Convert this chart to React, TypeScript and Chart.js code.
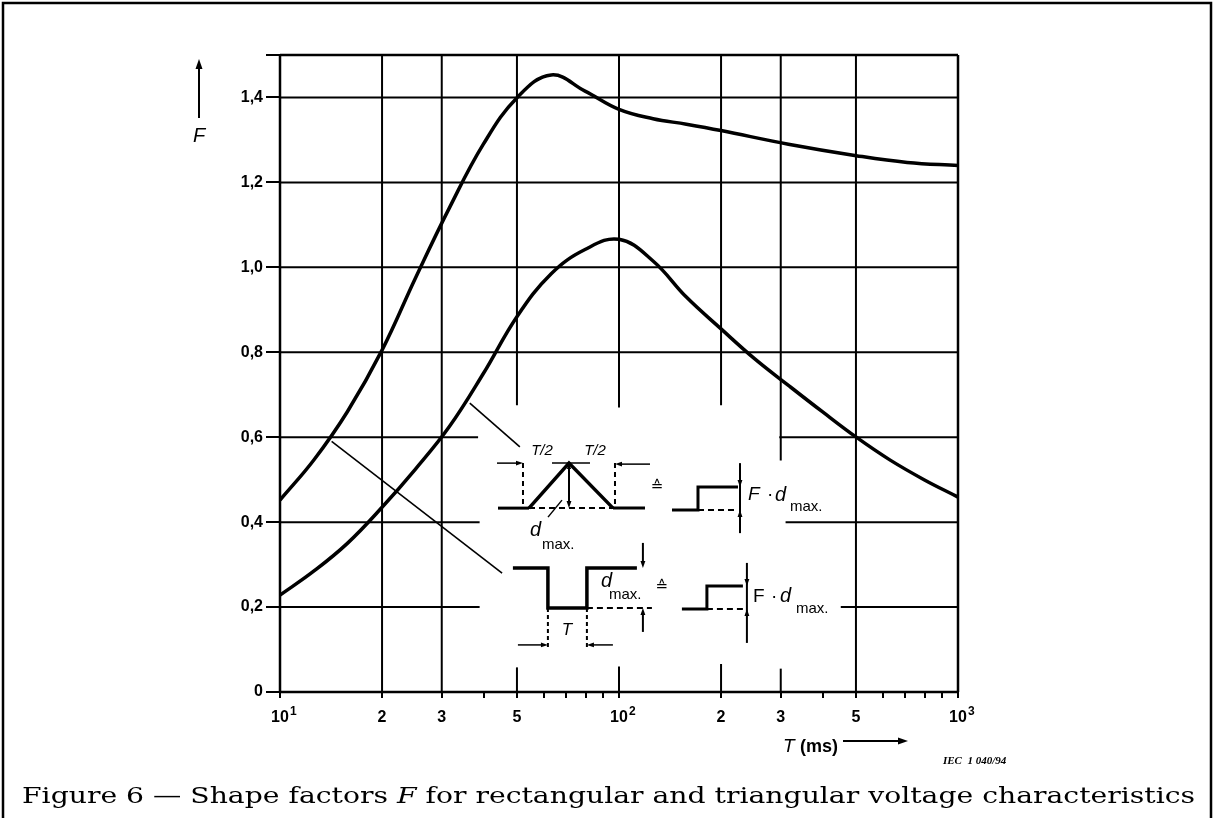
import React, { useEffect, useRef } from 'react';
import { Chart, registerables } from 'chart.js';

Chart.register(...registerables);

// ---- data ----
const T_RECT = [10, 12.6, 15.8, 20, 25.1, 31.6, 39.8, 50.1, 63.1, 79.4, 100, 126, 158, 200, 316, 501, 708, 1000];
const F_RECT = [0.452, 0.547, 0.66, 0.805, 0.975, 1.14, 1.29, 1.4, 1.453, 1.415, 1.372, 1.35, 1.337, 1.322, 1.29, 1.263, 1.247, 1.24];
const T_TRI = [10, 12.6, 15.8, 20, 25.1, 31.6, 39.8, 50.1, 63.1, 79.4, 100, 126, 158, 200, 251, 316, 398, 501, 631, 794, 1000];
const F_TRI = [0.228, 0.285, 0.35, 0.435, 0.525, 0.625, 0.75, 0.885, 0.985, 1.042, 1.066, 1.015, 0.93, 0.855, 0.785, 0.722, 0.66, 0.6, 0.546, 0.5, 0.459];

const X_TICKS = [10, 20, 30, 40, 50, 60, 70, 80, 90, 100, 200, 300, 400, 500, 600, 700, 800, 900, 1000];
const X_LABELS: Record<number, string> = { 10: '10', 20: '2', 30: '3', 50: '5', 100: '10', 200: '2', 300: '3', 500: '5', 1000: '10' };
const X_EXPONENTS: Record<number, string> = { 10: '1', 100: '2', 1000: '3' };
const Y_TICKS = [0, 0.2, 0.4, 0.6, 0.8, 1.0, 1.2, 1.4, 1.5];
const Y_LABELS = ['0', '0,2', '0,4', '0,6', '0,8', '1,0', '1,2', '1,4', ''];

// grid segments in data units (grid is interrupted around the insets)
const V_SEGMENTS: [number, number, number][] = [
  [10, 0, 1.5], [20, 0, 1.5], [30, 0, 1.5],
  [50, 0.675, 1.5], [50, 0, 0.058],
  [100, 0.67, 1.5], [100, 0, 0.06],
  [200, 0.675, 1.5], [200, 0, 0.066],
  [300, 0.545, 1.5], [300, 0, 0.055],
  [500, 0, 1.5], [1000, 0, 1.5],
];
const H_SEGMENTS: [number, number, number][] = [
  [0, 10, 1000],
  [0.2, 10, 38.8], [0.2, 451, 1000],
  [0.4, 10, 38.8], [0.4, 310, 1000],
  [0.6, 10, 38.4], [0.6, 297, 1000],
  [0.8, 10, 1000], [1.0, 10, 1000], [1.2, 10, 1000], [1.4, 10, 1000], [1.5, 10, 1000],
];
// leader lines from curves to the insets (data units)
const LEADERS: [number, number, number, number][] = [
  [14.2, 0.59, 45.2, 0.28],
  [36.3, 0.68, 51.0, 0.577],
];
const TRI_ANCHOR: [number, number] = [71.2, 0.433];
const RECT_ANCHOR: [number, number] = [61.7, 0.198];

const SANS = "'Liberation Sans', Arial, sans-serif";

function line(ctx: CanvasRenderingContext2D, x1: number, y1: number, x2: number, y2: number, w = 2, dash: number[] = []) {
  ctx.save();
  ctx.lineWidth = w;
  ctx.setLineDash(dash);
  ctx.beginPath();
  ctx.moveTo(x1, y1);
  ctx.lineTo(x2, y2);
  ctx.stroke();
  ctx.restore();
}
function poly(ctx: CanvasRenderingContext2D, ox: number, oy: number, pts: number[][], w = 3, dash: number[] = []) {
  ctx.save();
  ctx.lineWidth = w;
  ctx.lineJoin = 'miter';
  ctx.setLineDash(dash);
  ctx.beginPath();
  pts.forEach(([px, py], i) => (i ? ctx.lineTo(ox + px, oy + py) : ctx.moveTo(ox + px, oy + py)));
  ctx.stroke();
  ctx.restore();
}
function head(ctx: CanvasRenderingContext2D, x: number, y: number, dx: number, dy: number, size = 7) {
  const len = Math.hypot(dx, dy);
  const ux = dx / len, uy = dy / len;
  const w = size * 0.35;
  ctx.beginPath();
  ctx.moveTo(x, y);
  ctx.lineTo(x - ux * size - uy * w, y - uy * size + ux * w);
  ctx.lineTo(x - ux * size + uy * w, y - uy * size - ux * w);
  ctx.closePath();
  ctx.fill();
}
function text(ctx: CanvasRenderingContext2D, s: string, x: number, y: number, font: string, align: CanvasTextAlign = 'left') {
  ctx.font = font;
  ctx.textAlign = align;
  ctx.textBaseline = 'middle';
  ctx.fillText(s, x, y);
}

const figurePlugin = {
  id: 'figure',
  beforeDatasetsDraw(chart: any) {
    const { ctx } = chart;
    const xs = chart.scales.x, ys = chart.scales.y;
    ctx.save();
    ctx.strokeStyle = '#000';
    for (const [vx, y0, y1] of V_SEGMENTS) {
      const px = xs.getPixelForValue(vx);
      line(ctx, px, ys.getPixelForValue(y0), px, ys.getPixelForValue(y1), vx === 10 || vx === 1000 ? 2.5 : 2);
    }
    for (const [vy, x0, x1] of H_SEGMENTS) {
      const py = ys.getPixelForValue(vy);
      line(ctx, xs.getPixelForValue(x0), py, xs.getPixelForValue(x1), py, vy === 0 || vy === 1.5 ? 2.5 : 2);
    }
    for (const [a, b, c, d] of LEADERS) {
      line(ctx, xs.getPixelForValue(a), ys.getPixelForValue(b), xs.getPixelForValue(c), ys.getPixelForValue(d), 1.6);
    }
    ctx.restore();
  },
  afterDraw(chart: any) {
    const { ctx, chartArea } = chart;
    const xs = chart.scales.x, ys = chart.scales.y;
    const W = chart.width;
    ctx.save();
    ctx.strokeStyle = '#000';
    ctx.fillStyle = '#000';

    // frame
    poly(ctx, 0, 0, [[3, 830], [3, 3], [W - 3, 3], [W - 3, 830]], 2.5);

    // decade exponents on the x labels
    for (const k of Object.keys(X_EXPONENTS)) {
      const v = Number(k);
      text(ctx, X_EXPONENTS[v], xs.getPixelForValue(v) + 10, chartArea.bottom + 20, `bold 12px ${SANS}`);
    }

    // F axis arrow
    const fx = chartArea.left - 81;
    line(ctx, fx, chartArea.top + 63, fx, chartArea.top + 12, 2);
    head(ctx, fx, chartArea.top + 4, 0, -1, 10);
    text(ctx, 'F', fx, chartArea.top + 81, `italic 20px ${SANS}`, 'center');

    // T (ms) axis title with arrow
    const tx = chartArea.right - 175, ty = chartArea.bottom + 55;
    text(ctx, 'T', tx, ty, `italic 19px ${SANS}`);
    ctx.font = `italic 19px ${SANS}`;
    const tw = ctx.measureText('T ').width;
    text(ctx, '(ms)', tx + tw, ty, `bold 18px ${SANS}`);
    line(ctx, chartArea.right - 115, ty - 6, chartArea.right - 58, ty - 6, 2);
    head(ctx, chartArea.right - 50, ty - 6, 1, 0, 10);

    // IEC code
    text(ctx, 'IEC  1 040/94', chartArea.right - 15, chartArea.bottom + 69, "italic bold 11px 'Liberation Serif', serif");

    // caption
    const parts: [string, boolean][] = [
      ['Figure 6 — Shape factors ', false],
      ['F', true],
      [' for rectangular and triangular voltage characteristics', false],
    ];
    const cf = (it: boolean) => `${it ? 'italic ' : ''}22px 'DejaVu Serif', serif`;
    let total = 0;
    for (const [s, it] of parts) { ctx.font = cf(it); total += ctx.measureText(s).width; }
    ctx.save();
    ctx.translate(22, 797);
    ctx.scale(1173 / total, 1);
    let cx = 0;
    for (const [s, it] of parts) {
      text(ctx, s, cx, 0, cf(it));
      cx += ctx.measureText(s).width;
    }
    ctx.restore();

    // ---- triangular pulse inset ----
    {
      const ox = xs.getPixelForValue(TRI_ANCHOR[0]);
      const oy = ys.getPixelForValue(TRI_ANCHOR[1]);
      poly(ctx, ox, oy, [[-71, 0], [-40, 0]], 3);
      poly(ctx, ox, oy, [[-40, 0], [0, -45], [44, 0]], 3.5);
      poly(ctx, ox, oy, [[44, 0], [76, 0]], 3);
      poly(ctx, ox, oy, [[-40, 0], [44, 0]], 2, [6, 4]);
      poly(ctx, ox, oy, [[-17, -45], [21, -45]], 1.5);
      poly(ctx, ox, oy, [[0, -40], [0, -6]], 2);
      head(ctx, ox, oy, 0, 1, 7);
      head(ctx, ox, oy - 45, 0, -1, 6);
      poly(ctx, ox, oy, [[-46, -45], [-46, 0]], 2, [5, 4]);
      poly(ctx, ox, oy, [[-72, -45], [-52, -45]], 1.5);
      head(ctx, ox - 46, oy - 45, 1, 0, 7);
      poly(ctx, ox, oy, [[46, -45], [46, 0]], 2, [5, 4]);
      poly(ctx, ox, oy, [[81, -44], [52, -44]], 1.5);
      head(ctx, ox + 46, oy - 44, -1, 0, 7);
      text(ctx, 'T/2', ox - 27, oy - 57, `italic 15px ${SANS}`, 'center');
      text(ctx, 'T/2', ox + 26, oy - 57, `italic 15px ${SANS}`, 'center');
      poly(ctx, ox, oy, [[-21, 9], [-7, -8]], 1.5);
      text(ctx, 'd', ox - 39, oy + 22, `italic 20px ${SANS}`);
      text(ctx, 'max.', ox - 27, oy + 37, `15px ${SANS}`);
      text(ctx, '≙', ox + 88, oy - 21, `15px 'DejaVu Sans', sans-serif`, 'center');
      poly(ctx, ox, oy, [[103, 2], [129, 2], [129, -21], [169, -21]], 3);
      poly(ctx, ox, oy, [[129, 2], [169, 2]], 2, [6, 4]);
      poly(ctx, ox, oy, [[171, -45], [171, 25]], 2);
      head(ctx, ox + 171, oy - 21, 0, 1, 7);
      head(ctx, ox + 171, oy + 2, 0, -1, 7);
      text(ctx, 'F', ox + 179, oy - 13, `italic 19px ${SANS}`);
      text(ctx, '·', ox + 198, oy - 13, `19px ${SANS}`);
      text(ctx, 'd', ox + 206, oy - 13, `italic 20px ${SANS}`);
      text(ctx, 'max.', ox + 221, oy - 1, `15px ${SANS}`);
    }

    // ---- rectangular pulse inset ----
    {
      const ox = xs.getPixelForValue(RECT_ANCHOR[0]);
      const oy = ys.getPixelForValue(RECT_ANCHOR[1]);
      poly(ctx, ox, oy, [[-35, -40], [0, -40], [0, 0], [39, 0], [39, -40], [89, -40]], 3.5);
      poly(ctx, ox, oy, [[39, 0], [104, 0]], 2, [6, 4]);
      poly(ctx, ox, oy, [[95, -65], [95, -46]], 2);
      head(ctx, ox + 95, oy - 40, 0, 1, 7);
      poly(ctx, ox, oy, [[95, 24], [95, 6]], 2);
      head(ctx, ox + 95, oy, 0, -1, 7);
      text(ctx, 'd', ox + 53, oy - 26, `italic 20px ${SANS}`);
      text(ctx, 'max.', ox + 61, oy - 13, `15px ${SANS}`);
      text(ctx, '≙', ox + 114, oy - 21, `15px 'DejaVu Sans', sans-serif`, 'center');
      poly(ctx, ox, oy, [[0, 0], [0, 42]], 2, [4, 3]);
      poly(ctx, ox, oy, [[39, 0], [39, 42]], 2, [4, 3]);
      text(ctx, 'T', ox + 19, oy + 22, `italic 17px ${SANS}`, 'center');
      poly(ctx, ox, oy, [[-30, 37], [-6, 37]], 1.5);
      head(ctx, ox, oy + 37, 1, 0, 7);
      poly(ctx, ox, oy, [[45, 37], [65, 37]], 1.5);
      head(ctx, ox + 39, oy + 37, -1, 0, 7);
      poly(ctx, ox, oy, [[134, 1], [159, 1], [159, -22], [195, -22]], 3);
      poly(ctx, ox, oy, [[159, 1], [195, 1]], 2, [6, 4]);
      poly(ctx, ox, oy, [[199, -45], [199, 35]], 2);
      head(ctx, ox + 199, oy - 22, 0, 1, 7);
      head(ctx, ox + 199, oy + 1, 0, -1, 7);
      text(ctx, 'F', ox + 205, oy - 11, `19px ${SANS}`);
      text(ctx, '·', ox + 223, oy - 11, `19px ${SANS}`);
      text(ctx, 'd', ox + 232, oy - 11, `italic 20px ${SANS}`);
      text(ctx, 'max.', ox + 248, oy + 1, `15px ${SANS}`);
    }
    ctx.restore();
  },
};

export default function App() {
  const ref = useRef<HTMLCanvasElement>(null);
  useEffect(() => {
    const canvas = ref.current!;
    const tickFont = { family: SANS, size: 16, weight: 'bold' as const };
    const chart = new Chart(canvas, {
      type: 'line',
      data: {
        datasets: [
          {
            label: 'rectangular',
            data: T_RECT.map((t, i) => ({ x: t, y: F_RECT[i] })),
            borderColor: '#000',
            borderWidth: 3.5,
            pointRadius: 0,
            fill: false,
            tension: 0.4,
          },
          {
            label: 'triangular',
            data: T_TRI.map((t, i) => ({ x: t, y: F_TRI[i] })),
            borderColor: '#000',
            borderWidth: 3.5,
            pointRadius: 0,
            fill: false,
            tension: 0.4,
          },
        ],
      },
      options: {
        responsive: false,
        animation: false,
        devicePixelRatio: 1,
        layout: { padding: { left: 200, right: 256, top: 55, bottom: 76 } },
        plugins: { legend: { display: false }, tooltip: { enabled: false }, title: { display: false } },
        scales: {
          x: {
            type: 'logarithmic',
            min: 10,
            max: 1000,
            afterBuildTicks: (s: any) => { s.ticks = X_TICKS.map((v) => ({ value: v })); },
            afterFit: (s: any) => { s.height = 50; },
            ticks: {
              autoSkip: false,
              maxRotation: 0,
              minRotation: 0,
              padding: 10,
              color: '#000',
              font: tickFont,
              callback: (v: any) => X_LABELS[Number(v)] ?? '',
            },
            grid: { drawOnChartArea: false, drawTicks: true, tickLength: 6, color: '#000', lineWidth: 2 },
            border: { display: false },
          },
          y: {
            type: 'linear',
            min: 0,
            max: 1.5,
            afterBuildTicks: (s: any) => { s.ticks = Y_TICKS.map((v) => ({ value: v })); },
            afterFit: (s: any) => { s.width = 80; },
            ticks: {
              padding: 3,
              color: '#000',
              font: tickFont,
              callback: (_v: any, i: number) => Y_LABELS[i] ?? '',
            },
            grid: { drawOnChartArea: false, drawTicks: true, tickLength: 14, color: '#000', lineWidth: 2 },
            border: { display: false },
          },
        },
      },
      plugins: [figurePlugin],
    } as any);
    return () => chart.destroy();
  }, []);
  return (
    <div style={{ position: 'fixed', left: 0, top: 0, width: 1214, height: 818, background: '#fff' }}>
      <canvas ref={ref} width={1214} height={818} style={{ display: 'block', width: 1214, height: 818 }} />
    </div>
  );
}
